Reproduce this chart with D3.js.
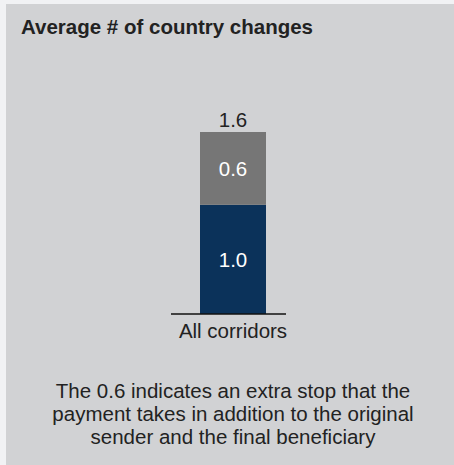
<!DOCTYPE html>
<html>
<head>
<meta charset="utf-8">
<script src="https://cdn.jsdelivr.net/npm/d3@7"></script>
<style>
  body { margin: 0; background: #f1f2f4; }
  svg { display: block; font-family: 'Liberation Sans', Arial, Helvetica, sans-serif; }
</style>
</head>
<body>
<svg width="454" height="465"></svg>
<script>
const categories = ['All corridors']
const seriesNames = ['Direct', 'Extra stop']
const seriesValues = [[0.96], [0.64]]
const seriesColors = ['#0b325a', '#767676']
const title = 'Average # of country changes'
const note = [
  'The 0.6 indicates an extra stop that the',
  'payment takes in addition to the original',
  'sender and the final beneficiary'
]

const svg = d3.select('svg')
const fmt = d3.format('.1f')
const fontSize = 20.5

svg.append('rect')
  .attr('x', 6).attr('y', 4)
  .attr('width', 448).attr('height', 461)
  .attr('fill', '#d1d2d4')

svg.append('text')
  .attr('x', 21).attr('y', 34)
  .attr('font-size', 20.5).attr('font-weight', 'bold')
  .attr('fill', '#222')
  .text(title)

const data = categories.map((c, i) => {
  const d = {category: c}
  seriesNames.forEach((s, j) => { d[s] = seriesValues[j][i] })
  return d
})
const stacked = d3.stack().keys(seriesNames)(data)

const baseY = 314
// axis line runs 171..286, bar sits in the middle 200..266
const x = d3.scaleBand().domain(categories).range([171, 295]).paddingInner(0).paddingOuter(0)
const y = d3.scaleLinear().domain([0, 1.6]).range([baseY, 132])
const barW = 66
const cx = (d) => 233

const g = svg.append('g')

stacked.forEach((layer, j) => {
  g.selectAll(null)
    .data(layer)
    .enter().append('rect')
    .attr('x', (d) => cx(d) - barW / 2)
    .attr('y', (d) => y(d[1]))
    .attr('width', barW)
    .attr('height', (d) => y(d[0]) - y(d[1]))
    .attr('fill', seriesColors[j])

  g.selectAll(null)
    .data(layer)
    .enter().append('text')
    .attr('x', (d) => cx(d))
    .attr('y', (d) => (y(d[0]) + y(d[1])) / 2)
    .attr('dy', '0.38em')
    .attr('text-anchor', 'middle')
    .attr('font-size', fontSize)
    .attr('fill', '#fff')
    .text((d) => fmt(d[1] - d[0]))
})

// totals
g.selectAll(null)
  .data(data)
  .enter().append('text')
  .attr('x', (d) => cx(d))
  .attr('y', (d) => y(d3.sum(seriesNames, (s) => d[s])) - 5)
  .attr('text-anchor', 'middle')
  .attr('font-size', fontSize)
  .attr('fill', '#222')
  .text((d) => fmt(d3.sum(seriesNames, (s) => d[s])))

// baseline axis
const axis = g.append('g')
  .attr('transform', `translate(0,${baseY})`)
  .call(d3.axisBottom(x).tickSize(0).tickPadding(9.5))
axis.select('.domain').attr('stroke', '#111').attr('stroke-width', 1.5).attr('d', 'M171,0H286')
axis.selectAll('.tick text')
  .attr('font-family', null)
  .attr('font-size', fontSize)
  .attr('fill', '#222')
  .attr('x', 233 - (171 + 295) / 2)

svg.append('text')
  .attr('text-anchor', 'middle')
  .attr('font-size', fontSize)
  .attr('fill', '#222')
  .selectAll('tspan')
  .data(note)
  .enter().append('tspan')
  .attr('x', 233)
  .attr('y', (d, i) => 397.5 + i * 23.3)
  .text((d) => d)
</script>
</body>
</html>
